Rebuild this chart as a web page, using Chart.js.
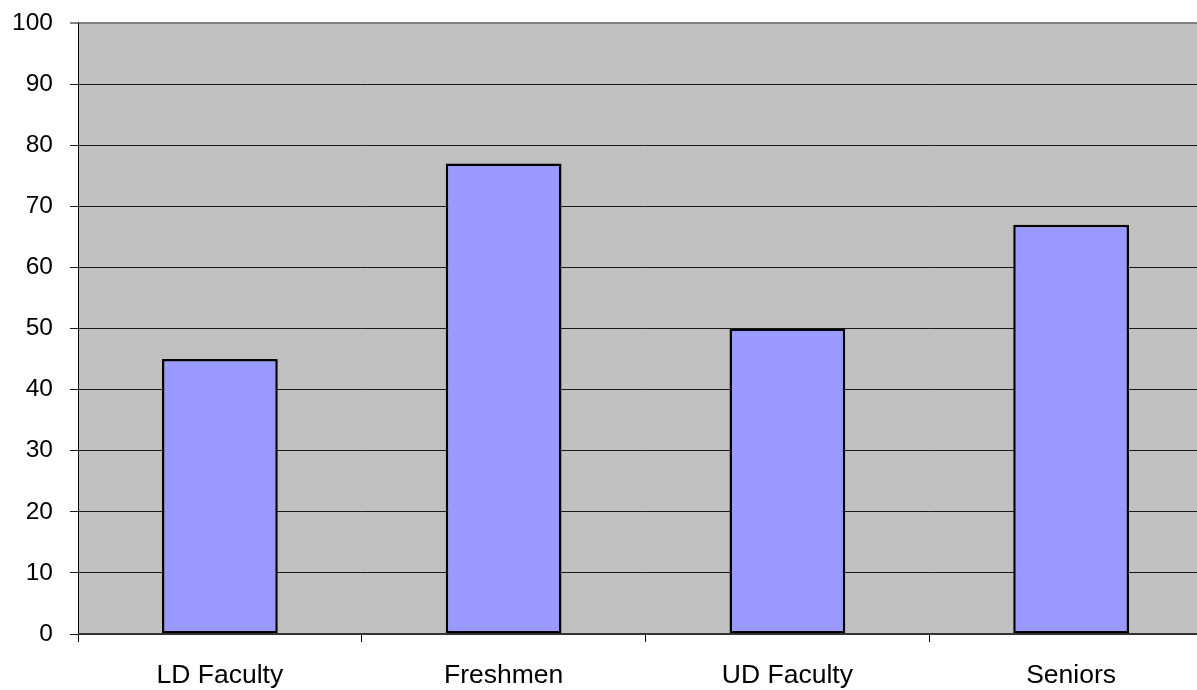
<!DOCTYPE html>
<html>
<head>
<meta charset="utf-8">
<script src="https://cdn.jsdelivr.net/npm/chart.js@4/dist/chart.umd.min.js"></script>
<style>
html,body{margin:0;padding:0;background:#fff;overflow:hidden;width:1197px;height:690px;}
#wrap{position:absolute;left:0;top:0;width:1220px;height:690px;}
</style>
</head>
<body>
<div id="wrap"><canvas id="c" width="1220" height="690"></canvas></div>
<script>
const categories = ["LD Faculty", "Freshmen", "UD Faculty", "Seniors"];
const values = [45, 77, 50, 67];
const yTicks = [0, 10, 20, 30, 40, 50, 60, 70, 80, 90, 100];

const bgPlugin = {
  id: 'bg',
  beforeDraw(chart) {
    const {ctx, chartArea: a} = chart;
    ctx.save();
    ctx.fillStyle = '#C0C0C0';
    ctx.fillRect(a.left, a.top, a.right - a.left, a.bottom - a.top);
    ctx.restore();
  },
  afterDatasetsDraw(chart) {
    const {ctx, chartArea: a} = chart;
    ctx.save();
    ctx.strokeStyle = '#000';
    ctx.lineWidth = 1;
    ctx.beginPath();
    ctx.moveTo(a.left + 0.5, a.top);
    ctx.lineTo(a.left + 0.5, a.bottom + 1);
    ctx.stroke();
    ctx.lineWidth = 2;
    ctx.strokeStyle = '#333';
    ctx.beginPath();
    ctx.moveTo(a.left, a.bottom);
    ctx.lineTo(a.right, a.bottom);
    ctx.stroke();
    ctx.restore();
  }
};

new Chart(document.getElementById('c'), {
  type: 'bar',
  data: {
    labels: categories,
    datasets: [{
      data: values,
      backgroundColor: '#9999FF',
      borderColor: '#000000',
      borderWidth: 2.5,
      borderSkipped: false,
      categoryPercentage: 1,
      barPercentage: 0.408
    }]
  },
  options: {
    responsive: false,
    animation: false,
    devicePixelRatio: 1,
    layout: {padding: {top: 23, right: 7, left: 0, bottom: 0}},
    plugins: {legend: {display: false}, tooltip: {enabled: false}},
    scales: {
      x: {
        offset: true,
        border: {display: false},
        grid: {offset: true, drawOnChartArea: false, drawTicks: true, tickLength: 8, color: '#000', lineWidth: 1},
        ticks: {color: '#000', padding: 18, font: {family: 'Liberation Sans, Arial, sans-serif', size: 26.5}, maxRotation: 0},
        afterFit(s) { s.height = 56; s.paddingLeft = 0; s.paddingRight = 0; }
      },
      y: {
        min: 0, max: 100,
        afterBuildTicks(s) { s.ticks = yTicks.map(v => ({value: v})); },
        border: {display: false},
        grid: {
          tickLength: 8,
          color: ctx => (ctx.tick && ctx.tick.value === 100) ? '#808080' : '#1a1a1a',
          lineWidth: ctx => (ctx.tick && ctx.tick.value === 100) ? 2 : 1
        },
        ticks: {color: '#000', padding: 17, font: {family: 'Liberation Sans, Arial, sans-serif', size: 24.5}},
        afterFit(s) { s.width = 78; s.paddingTop = 0; s.paddingBottom = 0; }
      }
    }
  },
  plugins: [bgPlugin]
});
</script>
</body>
</html>
